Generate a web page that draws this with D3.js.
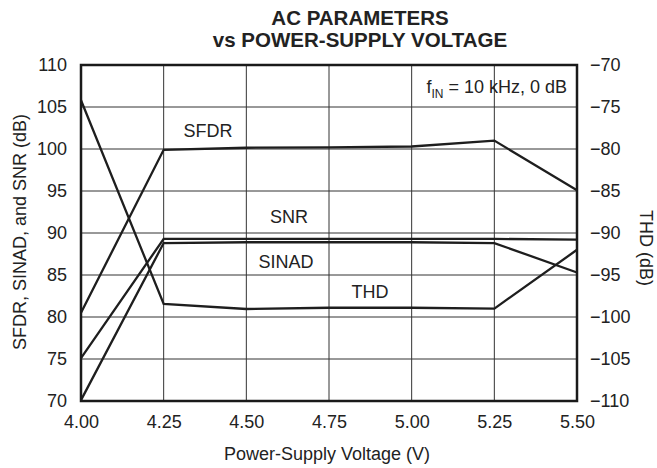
<!DOCTYPE html>
<html><head><meta charset="utf-8">
<script src="https://cdn.jsdelivr.net/npm/d3@7/dist/d3.min.js"></script>
<style>body{margin:0;background:#fff}svg text{font-family:"Liberation Sans",Arial,sans-serif;fill:#222}</style>
</head><body><svg id="c" width="657" height="468"></svg>
<script>
const voltage = [4.00, 4.25, 4.50, 4.75, 5.00, 5.25, 5.50];
const sfdr  = [80.5, 99.9, 100.15, 100.2, 100.3, 101.0, 95.1];
const snr   = [75.1, 89.3, 89.3, 89.3, 89.3, 89.3, 89.2];
const sinad = [70.1, 88.8, 88.9, 88.9, 88.9, 88.8, 85.3];
const thd   = [-74.2, -98.45, -99.05, -98.9, -98.9, -99.0, -92.0];
const xTicks = [4.00, 4.25, 4.50, 4.75, 5.00, 5.25, 5.50];
const yLeftTicks = [70, 75, 80, 85, 90, 95, 100, 105, 110];
const yRightTicks = [-110, -105, -100, -95, -90, -85, -80, -75, -70];

const FS = 18;
const svg = d3.select("#c");
const m = {l:81, r:577, t:65, b:401};
const x = d3.scaleLinear().domain([4.0, 5.5]).range([m.l, m.r]);
const yL = d3.scaleLinear().domain([70, 110]).range([m.b, m.t]);
const yR = d3.scaleLinear().domain([-110, -70]).range([m.b, m.t]);

// grid
const g = svg.append("g");
g.selectAll(".vx").data(xTicks).enter().append("line")
  .attr("x1", d=>x(d)).attr("x2", d=>x(d)).attr("y1", m.t).attr("y2", m.b)
  .attr("stroke", "#333").attr("stroke-width", 1);
g.selectAll(".hy").data(yLeftTicks).enter().append("line")
  .attr("y1", d=>yL(d)).attr("y2", d=>yL(d)).attr("x1", m.l).attr("x2", m.r)
  .attr("stroke", "#333").attr("stroke-width", 1);

// axes
const fmt = d3.format(".2f");
const ax = svg.append("g").attr("transform", `translate(0,${m.b})`)
  .call(d3.axisBottom(x).tickValues(xTicks).tickFormat(fmt).tickSize(0).tickPadding(14));
const al = svg.append("g").attr("transform", `translate(${m.l},0)`)
  .call(d3.axisLeft(yL).tickValues(yLeftTicks).tickSize(0).tickPadding(14));
const ar = svg.append("g").attr("transform", `translate(${m.r},0)`)
  .call(d3.axisRight(yR).tickValues(yRightTicks).tickFormat(d => d < 0 ? "\u2212" + Math.abs(d) : d).tickSize(0).tickPadding(13));
[ax, al, ar].forEach(a => {
  a.select(".domain").remove();
  a.selectAll("text").attr("font-size", FS).attr("fill", "#222")
    .attr("font-family", '"Liberation Sans",Arial,sans-serif');
});

// lines
const lineL = d3.line().x((d,i)=>x(voltage[i])).y(d=>yL(d));
const lineR = d3.line().x((d,i)=>x(voltage[i])).y(d=>yR(d));
const lines = svg.append("g").attr("fill", "none").attr("stroke", "#1e1e1e")
  .attr("stroke-width", 2.3).attr("stroke-linejoin", "miter");
lines.append("path").attr("d", lineL(sfdr));
lines.append("path").attr("d", lineL(snr));
lines.append("path").attr("d", lineL(sinad));
lines.append("path").attr("d", lineR(thd));

// frame
svg.append("rect").attr("x", m.l).attr("y", m.t).attr("width", m.r-m.l).attr("height", m.b-m.t)
  .attr("fill", "none").attr("stroke", "#1a1a1a").attr("stroke-width", 2.5);

// titles
svg.append("text").attr("x", 360).attr("y", 25).attr("text-anchor", "middle")
  .attr("font-size", 20.5).attr("font-weight", "bold").attr("fill", "#111").text("AC PARAMETERS");
svg.append("text").attr("x", 360).attr("y", 46.5).attr("text-anchor", "middle")
  .attr("font-size", 20.5).attr("font-weight", "bold").attr("fill", "#111").text("vs POWER-SUPPLY VOLTAGE");

svg.append("text").attr("x", 327).attr("y", 460).attr("text-anchor", "middle")
  .attr("font-size", FS).text("Power-Supply Voltage (V)");
svg.append("text").attr("transform", `translate(26,232) rotate(-90)`)
  .attr("text-anchor", "middle").attr("font-size", FS).text("SFDR, SINAD, and SNR (dB)");
svg.append("text").attr("transform", `translate(640,248) rotate(90)`)
  .attr("text-anchor", "middle").attr("font-size", FS).text("THD (dB)");

// series labels
const lab = (t, xx, yy) => svg.append("text").attr("x", xx).attr("y", yy)
  .attr("text-anchor", "middle").attr("font-size", FS).text(t);
lab("SFDR", 208, 137);
lab("SNR", 289, 223);
lab("SINAD", 286, 268);
lab("THD", 370, 298);

const ann = svg.append("text").attr("x", 567).attr("y", 93).attr("text-anchor", "end").attr("font-size", FS);
ann.append("tspan").text("f");
ann.append("tspan").attr("font-size", 12).attr("dy", 5).text("IN");
ann.append("tspan").attr("dy", -5).text(" = 10 kHz, 0 dB");
</script></body></html>
